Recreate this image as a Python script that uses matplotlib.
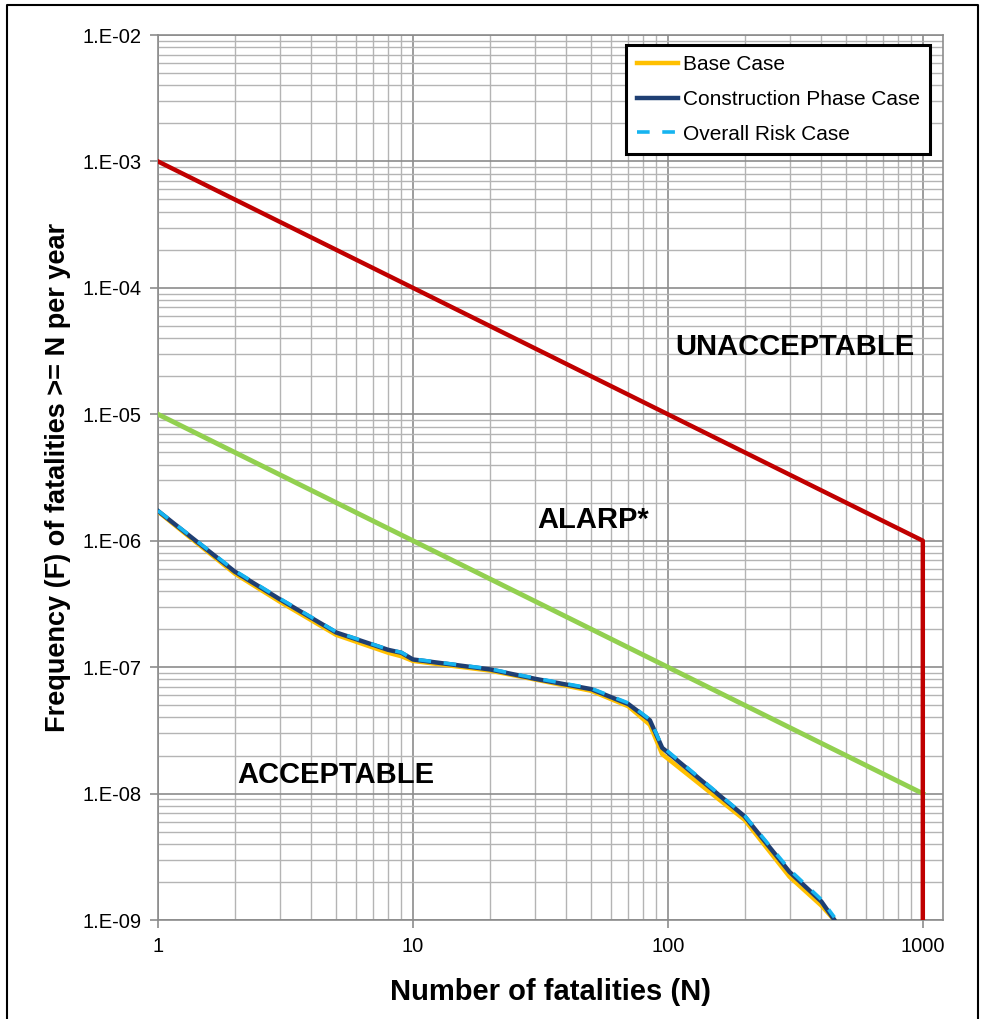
import numpy as np
import matplotlib.pyplot as plt
from matplotlib.ticker import FuncFormatter, LogLocator, NullFormatter
from matplotlib.lines import Line2D

plt.rcParams['font.family'] = ['Liberation Sans', 'DejaVu Sans']

# -------- Data --------
N_base = [1, 2, 3, 5, 8, 9, 10, 20, 30, 50, 70, 85, 95, 200, 300, 400, 450]
F_base = [1.70e-6, 5.5e-7, 3.3e-7, 1.80e-7, 1.30e-7, 1.22e-7, 1.12e-7, 9.4e-8, 8.0e-8,
          6.5e-8, 4.9e-8, 3.5e-8, 2.05e-8, 6.2e-9, 2.2e-9, 1.3e-9, 1.0e-9]

N_constr = [1, 2, 3, 5, 8, 9, 10, 20, 30, 50, 70, 85, 95, 200, 300, 400, 450]
F_constr = [1.72e-6, 5.7e-7, 3.45e-7, 1.88e-7, 1.37e-7, 1.30e-7, 1.15e-7, 9.6e-8, 8.1e-8,
            6.7e-8, 5.1e-8, 3.8e-8, 2.3e-8, 6.6e-9, 2.4e-9, 1.4e-9, 1.0e-9]

N_overall = N_constr
F_overall = [1.73e-6, 5.8e-7, 3.5e-7, 1.90e-7, 1.38e-7, 1.31e-7, 1.16e-7, 9.7e-8, 8.2e-8,
             6.8e-8, 5.2e-8, 3.85e-8, 2.35e-8, 6.7e-9, 2.5e-9, 1.45e-9, 1.05e-9]

N_upper = [1, 1000, 1000]
F_upper = [1e-3, 1e-6, 1e-9]
N_lower = [1, 1000]
F_lower = [1e-5, 1e-8]


def ytick_fmt(v, pos):
    e = int(round(np.log10(v)))
    return f"1.E-{abs(e):02d}" if e < 0 else f"1.E+{e:02d}"


fig = plt.figure(figsize=(9.85, 10.19), dpi=100)
ax = fig.add_axes([158 / 985, 99 / 1019, 785 / 985, 885 / 1019])

ax.set_xscale('log')
ax.set_yscale('log')
ax.set_xlim(1, 1200)
ax.set_ylim(1e-9, 1e-2)

ax.plot(N_lower, F_lower, color='#92D050', lw=3.5, zorder=3)
ax.plot(N_upper, F_upper, color='#C00000', lw=3.2, zorder=3)
ax.plot(N_base, F_base, color='#FFC000', lw=3.2, zorder=4, label='Base Case')
ax.plot(N_constr, F_constr, color='#1F3F73', lw=3.2, zorder=5, label='Construction Phase Case')
ax.plot(N_overall, F_overall, color='#16B4F0', lw=2.6, ls=(0, (3.5, 3.5)), zorder=6,
        label='Overall Risk Case')

ax.xaxis.set_major_locator(LogLocator(base=10, numticks=10))
ax.xaxis.set_minor_locator(LogLocator(base=10, subs=np.arange(2, 10), numticks=20))
ax.yaxis.set_major_locator(LogLocator(base=10, numticks=12))
ax.yaxis.set_minor_locator(LogLocator(base=10, subs=np.arange(2, 10), numticks=20))
ax.xaxis.set_major_formatter(FuncFormatter(lambda v, p: f"{int(round(v))}"))
ax.xaxis.set_minor_formatter(NullFormatter())
ax.yaxis.set_major_formatter(FuncFormatter(ytick_fmt))
ax.yaxis.set_minor_formatter(NullFormatter())

ax.grid(True, which='major', color='#8C8C8C', lw=1.2)
ax.grid(True, which='minor', color='#B4B4B4', lw=1.0)
ax.set_axisbelow(True)
for s in ax.spines.values():
    s.set_color('#8C8C8C')
    s.set_linewidth(1.2)
ax.tick_params(axis='both', which='major', labelsize=14.5, color='#8C8C8C', length=6,
               width=1.2, pad=6)
ax.tick_params(axis='both', which='minor', length=0)

ax.set_xlabel('Number of fatalities (N)', fontsize=21, fontweight='bold', labelpad=16)
ax.set_ylabel('Frequency (F) of fatalities >= N per year', fontsize=19.5, fontweight='bold',
              labelpad=8)

ax.text(315, 3.4e-5, 'UNACCEPTABLE', fontsize=21, fontweight='bold', ha='center', va='center')
ax.text(51, 1.46e-6, 'ALARP*', fontsize=21, fontweight='bold', ha='center', va='center')
ax.text(5.0, 1.4e-8, 'ACCEPTABLE', fontsize=21, fontweight='bold', ha='center', va='center')

leg = ax.legend(loc='upper right', bbox_to_anchor=(0.9834, 0.9887), borderaxespad=0,
                fontsize=15, fancybox=False, framealpha=1, edgecolor='black',
                handlelength=2.0, handletextpad=0.2, labelspacing=0.75, borderpad=0.5)
leg.get_frame().set_linewidth(2.2)

# outer frame (bottom edge runs off the image in the reference)
x0, x1 = 7 / 985, 978 / 985
y_top = 1 - 5 / 1019
fig.add_artist(Line2D([x0, x0, x1, x1], [0, y_top, y_top, 0], transform=fig.transFigure,
                      color='black', lw=1.5))

fig.savefig('out.png', dpi=100)
